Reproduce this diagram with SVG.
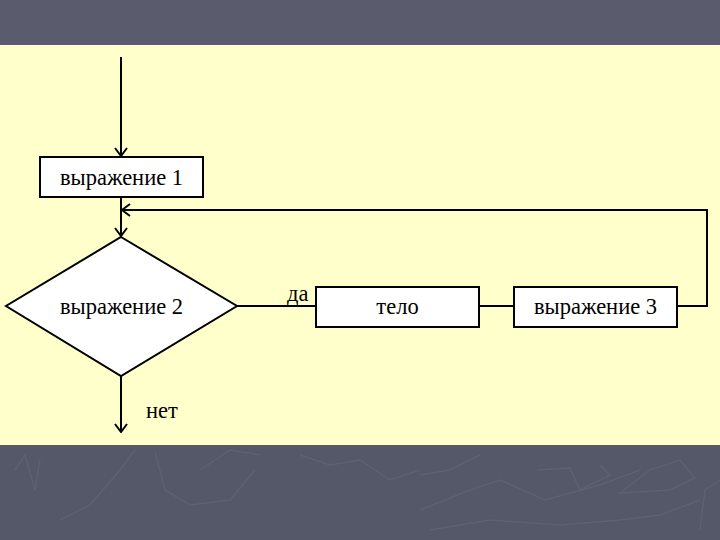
<svg xmlns="http://www.w3.org/2000/svg" width="720" height="540" viewBox="0 0 720 540">
<defs>
<style>
.box{fill:#ffffff;stroke:#000000;stroke-width:2}
.ln{fill:none;stroke:#000000;stroke-width:2}
text{font-family:'Liberation Serif','Times New Roman',serif;font-size:22.5px;fill:#000000}
.deco{fill:none;stroke:#5d6173;stroke-width:1.5}
</style>
<marker id="arr" viewBox="0 0 10 14" refX="9" refY="7" markerWidth="10" markerHeight="14" markerUnits="userSpaceOnUse" orient="auto">
<path d="M1,1 L9,7 L1,13" fill="none" stroke="#000000" stroke-width="2"/>
</marker>
</defs>
<rect x="0" y="0" width="720" height="45" fill="#5a5c6e"/>
<rect x="0" y="42" width="720" height="3" fill="#5c5a78"/>
<rect x="0" y="45" width="720" height="400" fill="#ffffcc"/>
<rect x="0" y="445" width="720" height="95" fill="#545868"/>
<g id="decoration">
<path class="deco" d="M15,470 L25,455 L35,490 L40,460"/>
<path class="deco" d="M60,520 L90,505 L120,470 L135,450"/>
<path class="deco" d="M155,452 L165,490 L190,505 L230,500 L255,470"/>
<path class="deco" d="M200,470 L230,450 L260,455"/>
<path class="deco" d="M300,455 L330,465 L360,460 L390,480 L420,470"/>
<path class="deco" d="M420,510 L470,490 L500,480 L545,500 L600,485 L640,470"/>
<path class="deco" d="M430,530 L490,520 L560,525 L620,520 L660,515 L700,500"/>
<path class="deco" d="M537,470 L570,468 L580,490 L610,475 L600,465"/>
<path class="deco" d="M620,493 L650,470 L680,460 L695,478 L670,490 Z"/>
<path class="deco" d="M700,530 L705,490 L720,480"/>
<path class="deco" d="M420,475 L450,470 L480,455"/>
</g>
<g id="connectors">
<line class="ln" x1="121" y1="57" x2="121" y2="156" marker-end="url(#arr)"/>
<line class="ln" x1="121" y1="197" x2="121" y2="236" marker-end="url(#arr)"/>
<line class="ln" x1="237" y1="306" x2="316" y2="306"/>
<line class="ln" x1="479" y1="306" x2="514" y2="306"/>
<polyline class="ln" points="677,306 707,306 707,210 122,210" marker-end="url(#arr)"/>
<line class="ln" x1="121" y1="376" x2="121" y2="432" marker-end="url(#arr)"/>
<text x="287" y="301">да</text>
<text x="146" y="418">нет</text>
</g>
<g id="expr1">
<rect class="box" x="40" y="157" width="163" height="40"/>
<text x="121.5" y="185" text-anchor="middle">выражение 1</text>
</g>
<g id="expr2">
<polygon class="box" points="121,237 237,306 121,376 6,306"/>
<text x="121.5" y="314" text-anchor="middle">выражение 2</text>
</g>
<g id="body">
<rect class="box" x="316" y="287" width="163" height="40"/>
<text x="397.5" y="314" text-anchor="middle">тело</text>
</g>
<g id="expr3">
<rect class="box" x="514" y="287" width="163" height="40"/>
<text x="595.5" y="314" text-anchor="middle">выражение 3</text>
</g>
</svg>
